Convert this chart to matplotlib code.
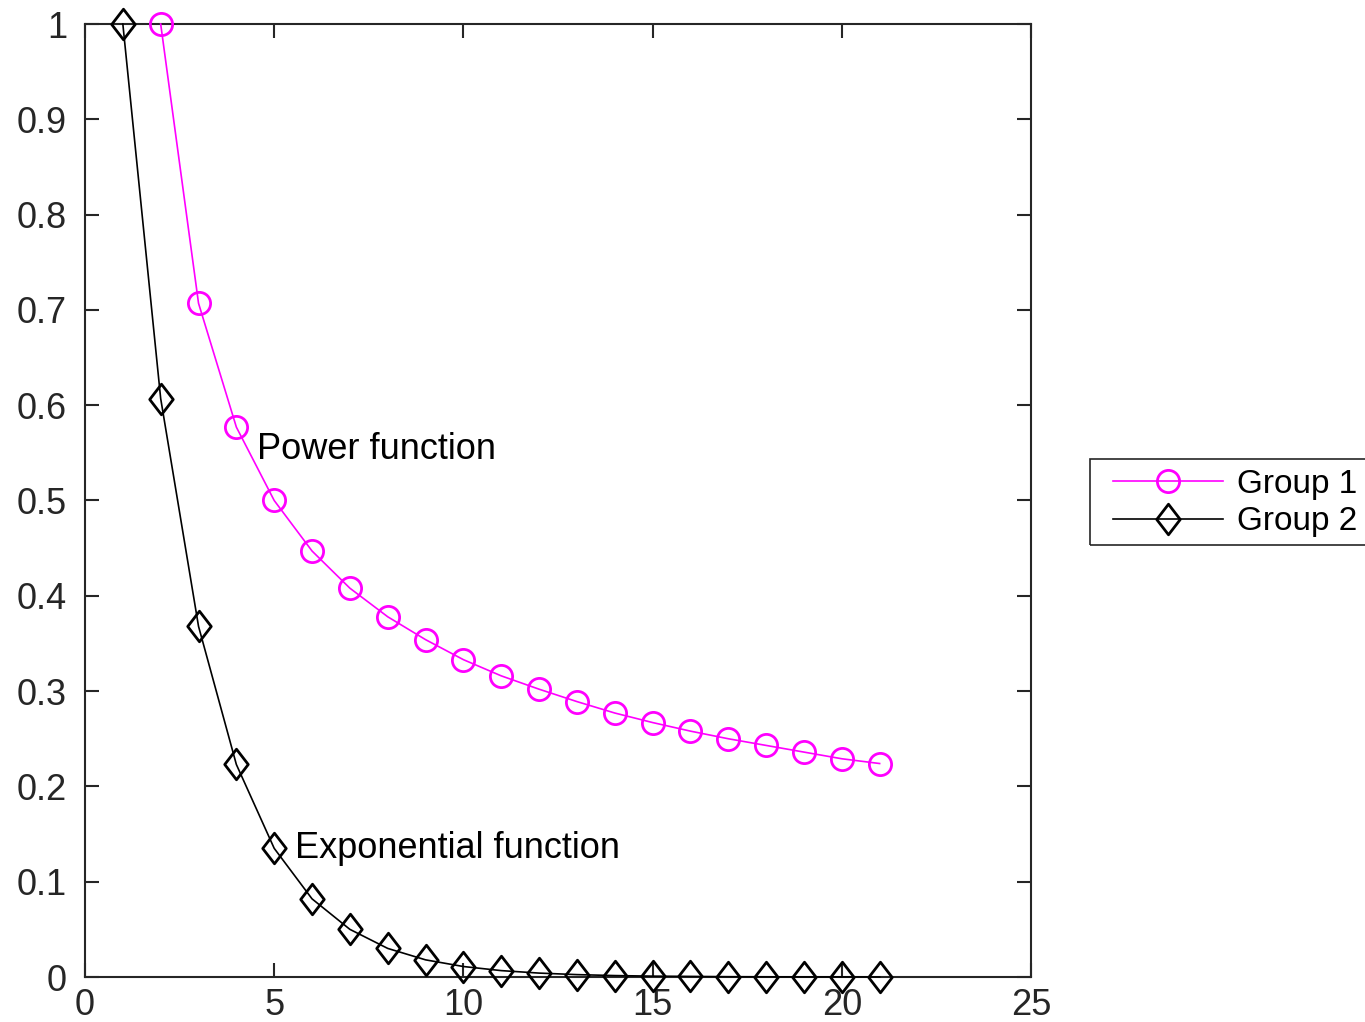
import matplotlib
matplotlib.use("Agg")
import matplotlib.pyplot as plt
from matplotlib.path import Path
from matplotlib.patches import Rectangle

# Data
x_power = [2, 3, 4, 5, 6, 7, 8, 9, 10, 11, 12, 13, 14, 15, 16, 17, 18, 19, 20, 21]
y_power = [1.0, 0.707, 0.577, 0.5, 0.447, 0.408, 0.378, 0.354, 0.333, 0.316,
           0.302, 0.289, 0.277, 0.267, 0.258, 0.25, 0.243, 0.236, 0.229, 0.224]
x_exp = [1, 2, 3, 4, 5, 6, 7, 8, 9, 10, 11, 12, 13, 14, 15, 16, 17, 18, 19, 20, 21]
y_exp = [1.0, 0.607, 0.368, 0.223, 0.135, 0.082, 0.050, 0.030, 0.018, 0.011,
         0.0067, 0.0041, 0.0025, 0.0015, 0.0009, 0.0006, 0.0003, 0.0002, 0.0001, 0.0001, 0.00005]
labels = ["Group 1", "Group 2"]
xticks = [0, 5, 10, 15, 20, 25]
yticks = [0, 0.1, 0.2, 0.3, 0.4, 0.5, 0.6, 0.7, 0.8, 0.9, 1]
ytick_labels = ["0", "0.1", "0.2", "0.3", "0.4", "0.5", "0.6", "0.7", "0.8", "0.9", "1"]

plt.rcParams['font.family'] = ['Liberation Sans', 'DejaVu Sans']

W, H = 1365, 1022
fig = plt.figure(figsize=(W / 100, H / 100), dpi=100)
ax = fig.add_axes([85 / W, 1 - 977 / H, 946 / W, 953 / H])

diamond = Path([(0, 1), (0.77, 0), (0, -1), (-0.77, 0), (0, 1)],
               [Path.MOVETO, Path.LINETO, Path.LINETO, Path.LINETO, Path.CLOSEPOLY])

ax.plot(x_power, y_power, color='#ff00ff', lw=1.2, marker='o', ms=16,
        mfc='none', mec='#ff00ff', mew=2.0, label=labels[0], clip_on=False, zorder=3)
ax.plot(x_exp, y_exp, color='black', lw=1.2, marker=diamond, ms=22,
        mfc='none', mec='black', mew=2.0, label=labels[1], clip_on=False, zorder=3)

ax.text(4.55, 0.553, "Power function", fontsize=26, va='center', ha='left', color='black')
ax.text(5.55, 0.135, "Exponential function", fontsize=26, va='center', ha='left', color='black')

ax.set_xlim(0, 25)
ax.set_ylim(0, 1)
ax.set_xticks(xticks)
ax.set_xticklabels([str(t) for t in xticks])
ax.set_yticks(yticks)
ax.set_yticklabels(ytick_labels)
ax.tick_params(direction='in', length=10, width=1.5, colors='#262626',
               labelsize=26, top=True, right=True)
ax.tick_params(axis='x', pad=8)
ax.tick_params(axis='y', pad=13)
for s in ax.spines.values():
    s.set_color('#262626')
    s.set_linewidth(1.5)

# Legend (frame drawn separately so it matches the reference box)
leg = fig.legend(loc='center left', bbox_to_anchor=(1113 / W, 1 - 503 / H),
                 fontsize=24, frameon=False, handlelength=3.3,
                 borderpad=0, labelspacing=0.2, handletextpad=0.42, borderaxespad=0)
frame = Rectangle((1090 / W, 1 - 545 / H), 290 / W, 86 / H, transform=fig.transFigure,
                  fill=False, edgecolor='#262626', linewidth=1.2)
fig.patches.append(frame)

fig.savefig("out.png", dpi=100)
